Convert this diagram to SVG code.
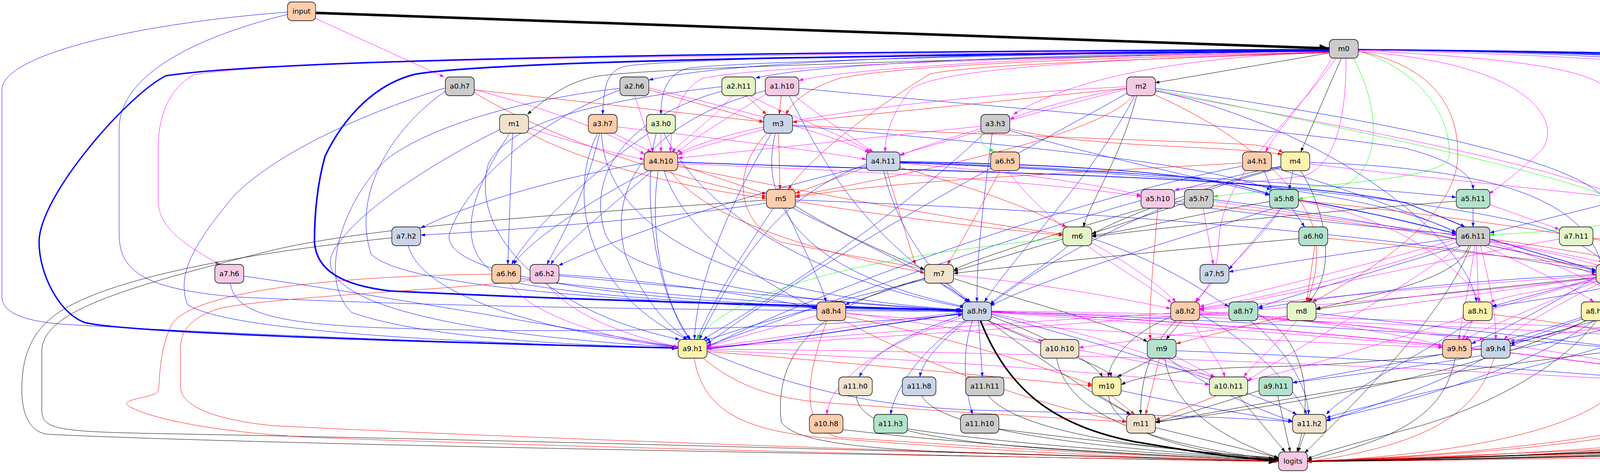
<svg xmlns="http://www.w3.org/2000/svg" width="5755" height="1211" viewBox="0 0 5755 1211">
<style>
.e{fill:none;stroke-width:1}
.b{stroke:#0000ff;marker-end:url(#mb)}
.m{stroke:#ff00ff;marker-end:url(#mm)}
.r{stroke:#ff0000;marker-end:url(#mr)}
.g{stroke:#00ff00;marker-end:url(#mg)}
.k{stroke:#000000;marker-end:url(#mk)}
.bT{stroke:#0000ff;marker-end:url(#mbT)}
.kT{stroke:#000000;marker-end:url(#mkT)}
.w2{stroke-width:1.8}
.n rect{stroke:#000;stroke-width:1.3}
.n text{font-family:"DejaVu Sans","Liberation Sans",sans-serif;font-size:18px;text-anchor:middle;fill:#000}
.P{fill:#fdcdac}.G{fill:#cccccc}.LG{fill:#e6f5c9}.PK{fill:#f4cae4}.BG{fill:#cbd5e8}.Y{fill:#fff2ae}.BE{fill:#f1e2cc}.MI{fill:#b3e2cd}
</style>
<defs>
<marker id="mb" viewBox="0 0 10 10" refX="10" refY="5" markerWidth="11" markerHeight="8" markerUnits="userSpaceOnUse" orient="auto" preserveAspectRatio="none"><path d="M0,0L10,5L0,10z" fill="#0000ff"/></marker>
<marker id="mm" viewBox="0 0 10 10" refX="10" refY="5" markerWidth="11" markerHeight="8" markerUnits="userSpaceOnUse" orient="auto" preserveAspectRatio="none"><path d="M0,0L10,5L0,10z" fill="#ff00ff"/></marker>
<marker id="mr" viewBox="0 0 10 10" refX="10" refY="5" markerWidth="11" markerHeight="8" markerUnits="userSpaceOnUse" orient="auto" preserveAspectRatio="none"><path d="M0,0L10,5L0,10z" fill="#ff0000"/></marker>
<marker id="mg" viewBox="0 0 10 10" refX="10" refY="5" markerWidth="11" markerHeight="8" markerUnits="userSpaceOnUse" orient="auto" preserveAspectRatio="none"><path d="M0,0L10,5L0,10z" fill="#00ff00"/></marker>
<marker id="mk" viewBox="0 0 10 10" refX="10" refY="5" markerWidth="11" markerHeight="8" markerUnits="userSpaceOnUse" orient="auto" preserveAspectRatio="none"><path d="M0,0L10,5L0,10z" fill="#000000"/></marker>
<marker id="mbT" viewBox="0 0 10 10" refX="10" refY="5" markerWidth="16" markerHeight="12" markerUnits="userSpaceOnUse" orient="auto" preserveAspectRatio="none"><path d="M0,0L10,5L0,10z" fill="#0000ff"/></marker>
<marker id="mkT" viewBox="0 0 10 10" refX="10" refY="5" markerWidth="25" markerHeight="20" markerUnits="userSpaceOnUse" orient="auto" preserveAspectRatio="none"><path d="M0,0L10,5L0,10z" fill="#000000"/></marker>
</defs>
<rect width="5755" height="1211" fill="#ffffff"/>
<g id="edges">
<path class="e kT" style="stroke-width:6.5" d="M808,33 L3403,124"/>
<path class="e m" d="M807,47 L1137,197"/>
<path class="e b" d="M736,31 C350,60 5,140 5,230 L5,760 C5,800 60,822 160,830 C700,862 1400,884 1736,891"/>
<path class="e b" d="M736,37 C480,100 305,200 305,330 L305,600 C305,700 380,740 600,760 C1200,790 2000,795 2464,797"/>
<path class="e k" d="M3406,135 L2957,212"/>
<path class="e k" d="M3403,129 C2600,150 1700,170 1530,195 C1450,210 1400,250 1350,293"/>
<path class="e k" d="M3434,149 L3330,389"/>
<path class="e m" d="M3410,149 C3350,250 3270,330 3240,389"/>
<path class="e m" d="M3446,149 C3446,300 3420,420 3340,450 C3200,470 3060,475 3007,486"/>
<path class="e m" d="M3420,149 C3300,320 3125,450 3120,620 C3118,700 3085,750 3062,773"/>
<path class="e g" d="M3465,149 C3535,280 3535,420 3450,470 C3400,495 3360,505 3324,509"/>
<path class="e g" d="M3477,130 C3640,180 3715,300 3710,400 C3705,460 3400,470 3106,503"/>
<path class="e r" d="M3477,131 C3650,165 3735,260 3732,400 C3728,560 3500,700 3360,773"/>
<path class="e m" d="M3477,129 C3900,150 4110,180 4130,250 C4150,320 4170,420 4175,485"/>
<path class="e m" d="M3403,132 C3000,150 2750,200 2594,293"/>
<path class="e m" d="M3403,130 C2800,140 2200,170 2045,206"/>
<path class="e b" d="M3403,129 C2700,140 2100,160 1934,200"/>
<path class="e b" d="M3403,128 C2600,135 1900,150 1661,205"/>
<path class="e b" d="M3403,127 C2500,135 1700,150 1600,170 C1555,180 1545,220 1543,293"/>
<path class="e b" d="M3403,128 C2600,138 1850,160 1760,175 C1705,190 1692,240 1692,293"/>
<path class="e m" d="M3403,133 C2500,150 1950,170 1800,200 C1740,230 1720,300 1716,389"/>
<path class="e m" d="M3403,134 C2900,150 2400,170 2330,230 C2285,290 2266,340 2266,389"/>
<path class="e r" d="M3403,134 C2700,150 2300,170 2150,200 C2060,230 2025,265 2012,293"/>
<path class="e r" d="M3403,135 C2800,155 2450,170 2380,190 C2200,300 2060,420 2018,485"/>
<path class="e m" d="M3477,128 C4000,140 4300,160 4350,185 C4450,250 4525,350 4540,485"/>
<path class="e m" d="M3477,132 C3900,160 4000,300 3950,380 C3900,430 3850,470 3812,496"/>
<path class="e m" d="M3403,131 C2000,138 700,150 495,192 C430,230 405,300 405,380 L405,520 C410,580 460,620 562,677"/>
<path class="e bT" style="stroke-width:3.5" d="M3403,127 C2000,132 700,150 425,194 C330,240 100,500 100,620 C100,700 150,800 215,825 C300,850 1000,875 1736,891"/>
<path class="e bT" style="stroke-width:4" d="M3403,130 C2500,140 1300,150 1063,190 C960,215 880,300 832,400 C810,480 805,560 805,620 C810,690 870,730 1000,745 C1500,770 2000,780 2464,795"/>
<path class="e b" d="M3477,126 C4600,135 5500,170 5590,192 C5660,215 5722,260 5723,300 L5720,1061"/>
<path class="e b" d="M3477,126 C4600,135 5450,170 5550,200 C5640,240 5673,280 5673,330 L5673,700 C5673,800 5560,850 5433,878"/>
<path class="e b" d="M3477,127 C4500,135 5400,170 5480,200 C5520,230 5536,280 5536,340 L5536,600 C5536,750 5300,830 5266,869"/>
<path class="e b" d="M3477,127 C4500,135 5350,170 5420,200 C5470,230 5485,280 5485,340 L5485,560 C5485,700 5250,820 5170,869"/>
<path class="e b" d="M3477,127 C4400,135 5300,170 5370,200 C5420,230 5435,280 5435,340 L5435,520 C5435,800 4700,950 4488,985"/>
<path class="e b" d="M3477,127 C4400,135 5250,170 5320,200 C5370,230 5383,280 5383,340 L5383,480 C5383,700 5100,820 5020,869"/>
<path class="e b" d="M3477,127 C4400,135 5200,170 5270,200 C5320,230 5333,280 5333,340 L5333,450 C5333,650 4900,840 4570,887"/>
<path class="e b" d="M3477,127 C4400,135 5150,165 5220,195 C5270,230 5282,280 5282,340 L5282,420 C5282,600 4700,740 4487,775"/>
<path class="e b" d="M3477,127 C4300,135 5050,160 5120,190 C5170,230 5181,280 5181,340 L5181,450 C5181,700 4500,850 4218,886"/>
<path class="e b" d="M3477,127 C4300,135 4950,160 5040,190 C5100,230 5129,280 5129,340 L5129,420 C5129,600 4400,760 4134,790"/>
<path class="e b" d="M3477,127 C4300,135 4900,160 4960,190 C5010,230 5027,280 5027,340 L5027,400 C5027,550 4400,650 4172,690"/>
<path class="e b" d="M3477,127 C4300,135 4800,160 4840,190 C4870,230 4876,280 4876,340 L4876,450 C4876,650 4000,830 3866,886"/>
<path class="e b" d="M3477,127 C4200,135 4700,160 4740,190 C4770,230 4776,280 4776,340 L4776,500 C4776,800 3600,1000 3395,1070"/>
<path class="e b" d="M3477,127 C4200,135 4650,160 4690,190 C4715,230 4723,280 4723,340 L4723,450 C4723,650 4000,760 3820,785"/>
<path class="e b" d="M3477,127 C4200,135 4550,160 4590,190 C4615,230 4624,280 4624,340 L4624,500 C4624,850 3500,950 3309,980"/>
<path class="e b" d="M3477,127 C4000,135 4300,150 4330,180 C4345,210 4346,250 4346,300 L4346,420 C4346,600 3900,820 3767,880"/>
<path class="e r" d="M1214,230 L1955,312"/>
<path class="e r" d="M1212,236 C1400,350 1700,450 1962,503"/>
<path class="e m" d="M1214,229 C1400,280 1550,330 1650,395"/>
<path class="e b" d="M1140,225 C900,300 700,400 600,500 C500,620 450,700 480,780 C600,860 1400,885 1736,890"/>
<path class="e b" d="M1142,232 C1000,330 900,500 950,650 C1050,760 2000,790 2464,798"/>
<path class="e m" d="M1353,327 C1450,360 1560,390 1649,408"/>
<path class="e r" d="M1350,338 C1500,420 1750,480 1962,508"/>
<path class="e b" d="M1283,330 C1100,420 900,550 850,650 C800,780 1200,860 1736,889"/>
<path class="e b" d="M1305,341 C1200,500 1150,650 1300,720 C1600,780 2200,790 2464,796"/>
<path class="e b" d="M1312,341 L1300,677"/>
<path class="e r" d="M1661,230 L1955,312"/>
<path class="e m" d="M1625,245 L1672,389"/>
<path class="e m" d="M1661,225 C1800,260 2100,330 2225,391"/>
<path class="e b" d="M1587,226 C1300,260 1100,330 1000,400 C900,480 800,700 900,800 C1100,870 1500,885 1736,890"/>
<path class="e b" d="M1588,230 C1400,300 1200,450 1150,600 C1130,720 1700,785 2464,795"/>
<path class="e r" d="M1910,245 L1962,293"/>
<path class="e m" d="M1875,245 C1830,300 1760,350 1720,389"/>
<path class="e m" d="M1920,245 C2000,290 2150,340 2228,389"/>
<path class="e b" d="M1848,222 C1500,260 1300,320 1250,420 C1200,600 1400,800 1740,869"/>
<path class="e b" d="M1850,233 C1600,300 1500,450 1550,600 C1600,720 2100,780 2464,794"/>
<path class="e r" d="M2000,245 L1995,293"/>
<path class="e m" d="M1962,240 C1850,310 1780,350 1732,392"/>
<path class="e m" d="M2035,245 C2100,300 2180,350 2235,389"/>
<path class="e b" d="M1960,232 C1700,300 1550,450 1600,650 C1650,780 1720,840 1760,869"/>
<path class="e b" d="M2020,245 C2100,400 2200,600 2480,773"/>
<path class="e b" d="M2045,226 C2600,280 3300,330 3600,380 C3750,420 3770,460 3771,485"/>
<path class="e m" d="M2884,226 C2750,250 2650,280 2585,305"/>
<path class="e r" d="M2884,226 L2029,313"/>
<path class="e r" d="M2900,245 C2820,350 2300,450 2036,502"/>
<path class="e k" d="M2910,245 C2870,400 2800,500 2773,581"/>
<path class="e m" d="M2884,222 C2500,240 1900,300 1736,395"/>
<path class="e m" d="M2886,228 C2600,300 2400,360 2304,398"/>
<path class="e b" d="M2888,237 C2600,400 2200,600 1810,880"/>
<path class="e b" d="M2905,245 C2800,450 2600,650 2520,773"/>
<path class="e m" d="M2958,233 C3300,300 3900,400 4136,500"/>
<path class="e g" d="M2958,229 C3400,320 4150,470 4200,550 C4150,580 3950,595 3814,601"/>
<path class="e b" d="M2958,226 C3500,300 4000,400 4100,500 C4140,560 4132,640 4129,677"/>
<path class="e b" d="M2958,232 C3400,330 3750,600 3780,773"/>
<path class="e r" d="M2950,240 C3200,350 3360,500 3370,620 C3375,700 3355,740 3348,773"/>
<path class="e m" d="M1570,341 L1668,389"/>
<path class="e m" d="M1580,325 C1800,350 2050,380 2218,408"/>
<path class="e b" d="M1530,341 C1450,500 1500,750 1760,869"/>
<path class="e b" d="M1540,341 C1550,600 1900,760 2464,793"/>
<path class="e b" d="M1535,341 C1500,500 1430,620 1400,677"/>
<path class="e m" d="M1692,341 L1692,389"/>
<path class="e b" d="M1680,341 C1640,500 1680,750 1765,869"/>
<path class="e b" d="M1700,341 C1800,550 2100,720 2468,787"/>
<path class="e b" d="M1668,336 C1500,450 1350,600 1310,677"/>
<path class="e m" d="M1955,332 C1850,360 1780,380 1736,396"/>
<path class="e r" d="M1993,341 L1997,485"/>
<path class="e b" d="M1975,341 C1850,550 1780,750 1778,869"/>
<path class="e b" d="M1985,341 C1940,520 2050,700 2470,785"/>
<path class="e r" d="M1963,341 C1860,450 1900,580 2000,620 C2200,660 2330,680 2367,690"/>
<path class="e r" d="M2029,320 C2600,350 3000,360 3200,370 C3250,375 3275,385 3285,390"/>
<path class="e b" d="M2029,322 C2600,370 3100,420 3254,486"/>
<path class="e m" d="M2511,323 L1736,405"/>
<path class="e m" d="M2515,334 L2304,396"/>
<path class="e g" d="M2515,336 C2500,370 2530,380 2545,389"/>
<path class="e b" d="M2585,334 C2800,400 3100,460 3250,500"/>
<path class="e r" d="M2585,330 C2800,380 3100,370 3282,395"/>
<path class="e b" d="M2520,341 C2300,550 2000,750 1800,869"/>
<path class="e b" d="M2540,341 C2520,500 2500,650 2501,773"/>
<path class="e r" d="M1736,421 L1962,497"/>
<path class="e r" d="M1736,426 C2100,500 2500,570 2721,600"/>
<path class="e r" d="M1716,437 C1800,560 2100,650 2367,698"/>
<path class="e b" d="M1649,418 C1450,450 1200,520 1077,584"/>
<path class="e b" d="M1660,437 C1500,520 1350,620 1315,677"/>
<path class="e b" d="M1670,437 C1550,540 1440,630 1410,677"/>
<path class="e b" d="M1685,437 C1660,600 1700,780 1768,869"/>
<path class="e b w2" d="M1735,415 C2400,440 3300,450 3600,520 C3700,560 3740,575 3750,581"/>
<path class="e b" d="M1700,437 C1750,600 1950,720 2091,792"/>
<path class="e m" d="M1735,419 C2300,440 2700,470 2921,503"/>
<path class="e r" d="M2225,425 L2036,495"/>
<path class="e r" d="M2300,428 C2500,480 2650,540 2730,581"/>
<path class="e r" d="M2270,437 L2343,677"/>
<path class="e m" d="M2304,418 C2600,440 2800,470 2921,500"/>
<path class="e b w2" d="M2304,414 C2700,420 3100,440 3250,498"/>
<path class="e b" d="M2304,416 C2900,430 3500,480 3728,595"/>
<path class="e b" d="M2218,420 C2000,500 1900,650 1790,869"/>
<path class="e b" d="M2262,437 C2300,600 2400,720 2480,773"/>
<path class="e b" d="M2218,425 C1900,500 1600,600 1430,680"/>
<path class="e b" d="M2304,417 C3000,440 3800,520 4000,600 C4070,640 4100,660 4110,677"/>
<path class="e b" d="M2304,415 C2900,440 3500,480 3728,505"/>
<path class="e m" d="M2580,437 C2700,600 2900,700 2999,775"/>
<path class="e r" d="M2560,437 C2500,550 2450,640 2425,677"/>
<path class="e b" d="M3236,437 L3255,485"/>
<path class="e r" d="M3181,417 C2800,440 2300,460 2036,505"/>
<path class="e b" d="M3256,428 C3500,500 3650,560 3728,595"/>
<path class="e b" d="M3181,425 C2800,500 2200,700 1810,889"/>
<path class="e b" d="M3310,437 L3300,485"/>
<path class="e k" d="M3285,425 C3150,460 2900,540 2795,600"/>
<path class="e k" d="M3330,437 C3400,550 3420,700 3350,773"/>
<path class="e m" d="M3353,420 C3700,460 4000,490 4136,505"/>
<path class="e b" d="M3282,425 C2800,520 2200,750 1810,885"/>
<path class="e b" d="M3285,428 C3000,500 2700,650 2535,780"/>
<path class="e b" d="M3353,416 C3800,430 4050,500 4100,677"/>
<path class="e r" d="M2036,515 C2300,560 2600,590 2721,603"/>
<path class="e k" d="M2036,527 C2150,600 2300,660 2367,690"/>
<path class="e k" d="M1962,512 C1600,540 1000,570 700,640 C300,740 107,800 107,900 L107,1050 C107,1100 150,1105 400,1110 C1500,1130 2800,1170 3273,1180"/>
<path class="e b" d="M1980,533 C1900,650 1820,780 1785,869"/>
<path class="e b" d="M2030,533 C2200,620 2420,720 2480,773"/>
<path class="e b" d="M2010,533 C2060,640 2100,720 2115,773"/>
<path class="e b" d="M2036,512 C2800,540 3600,600 4086,698"/>
<path class="e b" d="M1962,520 C1700,560 1300,590 1077,602"/>
<path class="e k" d="M2930,533 C2700,600 2500,660 2441,692"/>
<path class="e r" d="M2964,533 C2950,700 2940,800 2945,869"/>
<path class="e b" d="M3007,521 C3300,560 3600,590 3728,600"/>
<path class="e r" d="M3007,515 C3400,560 3900,620 4086,705"/>
<path class="e k" d="M3032,520 L2795,598"/>
<path class="e m" d="M3106,515 C3400,560 3650,590 3728,603"/>
<path class="e m" d="M3080,533 L3106,677"/>
<path class="e b" d="M3106,511 C3500,560 3900,640 4086,695"/>
<path class="e b" d="M3307,533 L3340,581"/>
<path class="e k" d="M3250,516 C3050,550 2900,590 2795,603"/>
<path class="e b w2" d="M3324,512 C3500,540 3650,580 3728,598"/>
<path class="e m" d="M3324,515 C3600,560 3750,700 3790,773"/>
<path class="e r" d="M3324,513 C3800,560 4300,640 4500,700 C4700,760 4800,800 4900,850 C5000,920 4950,1100 4700,1140 C4200,1170 3700,1178 3347,1181"/>
<path class="e b" d="M3260,533 C3000,620 2700,700 2535,783"/>
<path class="e b" d="M3280,533 L3146,690"/>
<path class="e m" d="M3280,533 C3200,650 3100,720 3060,773"/>
<path class="e b" d="M3771,533 L3771,581"/>
<path class="e m" d="M3814,524 L3992,587"/>
<path class="e k" d="M3728,515 C3300,550 3000,580 2795,606"/>
<path class="e b" d="M4136,516 C4000,550 3880,580 3814,596"/>
<path class="e b" d="M4170,533 L4140,677"/>
<path class="e r" d="M4210,515 C4500,600 5300,700 5350,900 C5380,1050 5300,1120 5200,1130 C4500,1150 3700,1170 3347,1180"/>
<path class="e b" d="M4512,515 C4350,560 4200,640 4172,690"/>
<path class="e r" d="M4555,533 C4560,700 4560,900 4500,1000 C4300,1120 3700,1170 3347,1180"/>
<path class="e k" d="M1003,609 C700,640 300,700 150,800 C60,860 56,950 56,1000 C56,1080 90,1110 125,1112 C700,1140 2500,1168 3273,1181"/>
<path class="e b" d="M1045,629 C1080,760 1400,850 1736,888"/>
<path class="e k" d="M2721,612 L2441,695"/>
<path class="e g" d="M2721,609 C2300,650 1900,720 1783,869"/>
<path class="e b" d="M2735,629 C2650,700 2560,750 2535,780"/>
<path class="e m" d="M2795,622 C2900,680 2980,740 3010,773"/>
<path class="e b" d="M2795,610 C3000,680 3100,760 3146,785"/>
<path class="e k" d="M3325,611 C3000,640 2700,670 2441,700"/>
<path class="e r" d="M3366,629 L3345,773"/>
<path class="e r" d="M3399,610 C3800,650 4300,700 4600,760 C4900,830 5100,950 5000,1080 C4900,1140 3800,1170 3347,1180"/>
<path class="e b w2" d="M3814,612 L4086,692"/>
<path class="e b" d="M3728,610 C3500,640 3300,670 3146,696"/>
<path class="e m" d="M3728,612 C3500,680 3200,750 3071,785"/>
<path class="e m" d="M3730,620 C3500,700 3250,760 3071,790"/>
<path class="e b" d="M3740,629 C3500,700 3300,760 3221,787"/>
<path class="e k" d="M3760,629 C3740,700 3600,740 3369,790"/>
<path class="e k" d="M3765,629 C3700,800 3500,1000 3340,1160"/>
<path class="e m" d="M3775,629 C3760,750 3740,820 3735,869"/>
<path class="e m" d="M3790,629 C3820,750 3830,820 3829,869"/>
<path class="e m" d="M3780,629 L3785,773"/>
<path class="e m" d="M3740,629 C3500,800 3300,900 3194,975"/>
<path class="e m" d="M3800,629 C3950,700 4050,750 4080,773"/>
<path class="e m" d="M3814,620 C4100,700 4400,900 4420,965"/>
<path class="e r" d="M3814,612 C4500,700 5000,900 5000,1050 C4900,1130 3800,1165 3347,1180"/>
<path class="e m" d="M3814,616 C4200,680 4450,760 4470,773"/>
<path class="e m" d="M3814,618 C4300,700 4500,850 4520,869"/>
<path class="e r" d="M4078,610 C4600,650 5400,700 5430,900 C5440,1080 5300,1125 5200,1130 C4500,1150 3700,1172 3347,1181"/>
<path class="e m" d="M3992,612 C3600,680 3300,760 3071,792"/>
<path class="e b" d="M624,707 C1000,760 1500,850 1736,888"/>
<path class="e b" d="M590,725 C600,800 700,830 1000,840 C1600,860 2200,830 2464,805"/>
<path class="e r" d="M1259,702 C900,705 500,740 440,830 C405,900 410,980 405,1000 C400,1020 300,1020 330,1040 C400,1080 600,1110 800,1120 C1600,1150 2800,1175 3273,1182"/>
<path class="e m" d="M1305,725 C1350,800 1550,870 1736,890"/>
<path class="e b" d="M1333,713 C1700,760 2100,785 2464,796"/>
<path class="e r" d="M1357,718 C1100,745 700,760 560,790 C470,820 462,860 462,900 L462,990 C462,1040 550,1075 700,1090 C1500,1130 2800,1170 3273,1180"/>
<path class="e m" d="M1400,725 C1450,800 1600,860 1736,888"/>
<path class="e b" d="M1431,703 C1700,720 1950,760 2091,790"/>
<path class="e b" d="M1431,706 C1800,740 2200,780 2464,794"/>
<path class="e b" d="M2424,725 L2485,773"/>
<path class="e b" d="M2367,712 L2163,780"/>
<path class="e b" d="M2367,716 C2100,780 1900,840 1806,872"/>
<path class="e k" d="M2441,713 C2650,780 2850,830 2938,875"/>
<path class="e m" d="M2441,704 C2700,730 2900,770 2997,790"/>
<path class="e k" d="M2367,713 C2100,780 1980,900 2000,1080 C2030,1130 2200,1150 2500,1160 C2900,1172 3150,1178 3273,1181"/>
<path class="e m" d="M3100,725 L3060,773"/>
<path class="e m" d="M4125,725 L4100,773"/>
<path class="e m" d="M4140,725 L4115,773"/>
<path class="e b" d="M4086,712 L3820,784"/>
<path class="e m" d="M4090,720 C3950,740 3850,760 3815,773"/>
<path class="e k" d="M4086,710 C3800,740 3500,770 3369,792"/>
<path class="e m" d="M4086,706 C3700,730 3300,770 3071,794"/>
<path class="e b" d="M4086,703 C3700,720 3400,760 3221,790"/>
<path class="e k" d="M4130,725 C4100,900 3800,1050 3600,1100 C3450,1140 3380,1160 3347,1175"/>
<path class="e m" d="M4095,725 C3950,800 3870,850 3850,869"/>
<path class="e m" d="M4086,720 C3900,800 3780,850 3750,869"/>
<path class="e m" d="M4086,712 C3500,780 2500,850 1810,889"/>
<path class="e m" d="M4086,715 C3700,820 3400,930 3190,975"/>
<path class="e m" d="M4160,725 C4300,800 4400,900 4430,965"/>
<path class="e m" d="M4172,712 C4350,770 4480,830 4515,869"/>
<path class="e m" d="M4086,710 C3600,780 3000,860 2762,890"/>
<path class="e m" d="M4172,705 C4500,740 4900,800 5110,869"/>
<path class="e m" d="M4172,708 C4600,750 5000,810 5210,869"/>
<path class="e r" d="M4172,715 C4700,780 5200,820 5250,1000 C5240,1090 5100,1120 4900,1135 C4300,1165 3700,1178 3347,1181"/>
<path class="e m" d="M2091,808 L1810,887"/>
<path class="e r" d="M2165,810 C2500,880 2700,950 2796,985"/>
<path class="e r" d="M2117,821 C2050,1000 2060,1100 2150,1120 C2600,1150 3000,1172 3273,1180"/>
<path class="e r" d="M2160,821 C2400,950 2700,1050 2884,1080"/>
<path class="e m" d="M2165,800 C2600,860 3000,940 3110,965"/>
<path class="e m" d="M2165,803 C2800,850 3400,880 3693,890"/>
<path class="e kT" style="stroke-width:4" d="M2510,821 C2580,1000 2700,1090 2900,1130 C3100,1165 3200,1175 3273,1180"/>
<path class="e b" d="M2464,807 C2300,860 2220,920 2200,965"/>
<path class="e b" d="M2475,821 C2400,880 2360,930 2355,965"/>
<path class="e b" d="M2505,821 L2515,965"/>
<path class="e b" d="M2470,821 C2350,900 2290,1000 2280,1061"/>
<path class="e b" d="M2490,821 C2460,900 2470,1000 2490,1061"/>
<path class="e m" d="M2465,812 C2200,900 2120,1000 2117,1061"/>
<path class="e m" d="M2464,799 C2200,830 1950,870 1810,890"/>
<path class="e b w2" d="M2464,802 C2200,840 1950,880 1810,893"/>
<path class="e m" d="M2530,821 C2600,850 2650,870 2670,872"/>
<path class="e k" d="M2538,810 C2700,870 2800,930 2823,965"/>
<path class="e k" d="M2530,821 C2700,900 2840,940 2845,965"/>
<path class="e m" d="M2538,803 C2800,850 3000,930 3110,968"/>
<path class="e m" d="M2538,800 C3000,830 3500,870 3693,888"/>
<path class="e m w2" d="M2538,799 C3300,830 4200,930 4402,985"/>
<path class="e b" d="M2538,797 C3200,820 3900,870 4144,891"/>
<path class="e k" d="M2530,821 C2700,950 2850,1040 2895,1061"/>
<path class="e b" d="M2538,805 C2900,900 3200,1000 3320,1061"/>
<path class="e m" d="M2538,798 C3500,820 4300,860 4496,885"/>
<path class="e m" d="M2538,796 C3600,810 4700,860 4949,890"/>
<path class="e k" d="M3025,821 L2985,869"/>
<path class="e m" d="M3050,821 C3100,900 3130,940 3135,965"/>
<path class="e m" d="M2997,802 C2500,830 2000,870 1810,891"/>
<path class="e k" d="M3000,810 C2900,850 2840,920 2838,965"/>
<path class="e k" d="M3010,821 C2930,900 2920,1000 2920,1061"/>
<path class="e b" d="M3071,805 C3200,870 3320,1000 3345,1061"/>
<path class="e m" d="M3071,800 C3600,830 4200,930 4402,982"/>
<path class="e m" d="M3071,797 C3400,820 3600,860 3693,885"/>
<path class="e m" d="M3071,803 C3500,830 3750,860 3800,869"/>
<path class="e b" d="M3200,821 C3300,900 3350,1000 3350,1061"/>
<path class="e k" d="M3221,805 C3330,860 3370,1000 3320,1157"/>
<path class="e r" d="M3295,808 L3011,880"/>
<path class="e b" d="M3369,802 C3700,840 4000,870 4144,890"/>
<path class="e m" d="M3320,821 C3250,900 3200,940 3185,965"/>
<path class="e b" d="M3770,821 C3650,900 3450,1000 3395,1061"/>
<path class="e r" d="M3820,805 C4200,850 4400,900 4450,1000 C4400,1120 3800,1165 3347,1181"/>
<path class="e m" d="M3770,821 L3745,869"/>
<path class="e b" d="M4055,815 L3866,880"/>
<path class="e k" d="M4060,821 C3800,950 3300,1040 2958,1080"/>
<path class="e b" d="M4080,821 C3900,950 3600,1030 3395,1075"/>
<path class="e b" d="M4120,821 L4160,869"/>
<path class="e m" d="M4120,821 C4300,900 4400,950 4420,965"/>
<path class="e k" d="M4134,805 C4500,820 4900,830 5020,860 C5060,900 5040,950 5000,980 C4800,1050 4700,1110 4550,1130 C4200,1160 3700,1175 3347,1181"/>
<path class="e k" d="M4060,821 C3900,900 3500,935 3200,940 C3000,945 2900,970 2870,985"/>
<path class="e b" d="M4055,810 C3800,900 3500,940 3309,980"/>
<path class="e r" d="M4487,800 C4800,830 5230,870 5250,950 C5260,1020 5200,1100 5100,1120 C4500,1150 3700,1172 3347,1180"/>
<path class="e m" d="M4413,800 C4200,830 3900,860 3866,875"/>
<path class="e r" d="M1777,917 C1800,1050 1900,1100 2100,1120 C2600,1160 3000,1175 3273,1181"/>
<path class="e r" d="M1800,917 C1900,1000 2000,1020 2100,1030 C2500,1060 2800,1075 2884,1080"/>
<path class="e b" d="M1810,900 C2000,980 2200,1040 2500,1050 C2900,1060 3200,1070 3309,1080"/>
<path class="e r" d="M1810,900 C2200,930 2600,970 2796,988"/>
<path class="e m" d="M1810,897 C2400,920 2900,960 3096,985"/>
<path class="e m" d="M1810,894 C2800,900 3800,950 4402,985"/>
<path class="e k" d="M2705,917 C2730,1050 2900,1130 3273,1178"/>
<path class="e k" d="M2955,917 L2860,965"/>
<path class="e r" d="M2968,917 L2933,1061"/>
<path class="e k" d="M2982,917 C3000,1050 3150,1130 3273,1172"/>
<path class="e b" d="M2990,917 C3100,1000 3250,1060 3309,1078"/>
<path class="e m" d="M3005,910 L3110,965"/>
<path class="e b" d="M3011,898 C3600,920 4100,960 4402,985"/>
<path class="e k" d="M3725,917 C3700,1050 3600,1120 3347,1178"/>
<path class="e r" d="M3825,917 C3780,1060 3650,1140 3347,1182"/>
<path class="e b" d="M3800,917 C3650,1000 3450,1060 3395,1078"/>
<path class="e k" d="M4144,898 C3600,960 3200,1040 2958,1082"/>
<path class="e r" d="M4180,917 C4170,1080 3800,1160 3347,1182"/>
<path class="e r" d="M4530,917 C4520,1050 4450,1100 4300,1130 C3900,1165 3600,1175 3347,1181"/>
<path class="e k" d="M4950,910 C4750,1050 4600,1120 4400,1140 C4000,1165 3600,1176 3347,1181"/>
<path class="e m" d="M5099,900 C4800,950 4600,980 4488,988"/>
<path class="e k" d="M5136,917 C5130,1050 5100,1110 4900,1130 C4300,1160 3700,1178 3347,1182"/>
<path class="e m" d="M5200,905 C4900,960 4600,990 4488,992"/>
<path class="e k" d="M5230,917 C5210,1050 5150,1110 4950,1135 C4300,1165 3700,1178 3347,1182"/>
<path class="e k" d="M5390,917 C5390,1050 5330,1110 5150,1135 C4400,1165 3700,1178 3347,1182"/>
<path class="e k" d="M4437,1013 C4410,1100 4350,1130 4200,1145 C3900,1170 3600,1178 3347,1181"/>
<path class="e r" d="M5675,1094 C5500,1130 5000,1150 4500,1165 C4000,1175 3600,1180 3347,1182"/>
<path class="e k" d="M2192,1013 C2200,1120 2500,1150 3273,1178"/>
<path class="e k" d="M2360,1013 C2400,1100 2800,1150 3273,1175"/>
<path class="e k" d="M2530,1013 C2600,1100 2900,1150 3273,1172"/>
<path class="e k" d="M2158,1100 C2500,1140 2900,1165 3273,1178"/>
<path class="e k" d="M2323,1098 C2600,1140 3000,1165 3273,1176"/>
<path class="e k" d="M2557,1098 C2800,1130 3100,1160 3273,1174"/>
<path class="e r" d="M2845,1013 L2905,1061"/>
<path class="e k" d="M2815,1013 L2895,1061"/>
<path class="e k" d="M2838,1013 C2850,1120 3100,1165 3273,1178"/>
<path class="e b" d="M2870,1000 C3050,1040 3250,1070 3309,1080"/>
<path class="e r" d="M3115,1013 L2958,1075"/>
<path class="e k" d="M3170,1013 L3290,1157"/>
<path class="e k" d="M3223,1000 C3100,1040 3000,1070 2958,1080"/>
<path class="e k" d="M3271,1013 L3303,1157"/>
<path class="e k" d="M2958,1095 L3274,1172"/>
<path class="e k" d="M3340,1109 L3323,1157"/>
</g>
<g id="nodes">
<g id="n_input" class="n"><rect class="P" x="736" y="5" width="72" height="48" rx="11"/><text x="772" y="35">input</text></g>
<g id="n_m0" class="n"><rect class="G" x="3403" y="101" width="74" height="48" rx="11"/><text x="3440" y="131">m0</text></g>
<g id="n_a0_h7" class="n"><rect class="G" x="1140" y="197" width="74" height="48" rx="11"/><text x="1177" y="227">a0.h7</text></g>
<g id="n_a2_h6" class="n"><rect class="G" x="1587" y="197" width="74" height="48" rx="11"/><text x="1624" y="227">a2.h6</text></g>
<g id="n_a2_h11" class="n"><rect class="LG" x="1848" y="197" width="86" height="48" rx="11"/><text x="1891" y="227">a2.h11</text></g>
<g id="n_a1_h10" class="n"><rect class="PK" x="1959" y="197" width="86" height="48" rx="11"/><text x="2002" y="227">a1.h10</text></g>
<g id="n_m2" class="n"><rect class="PK" x="2884" y="197" width="74" height="48" rx="11"/><text x="2921" y="227">m2</text></g>
<g id="n_m1" class="n"><rect class="BE" x="1279" y="293" width="74" height="48" rx="11"/><text x="1316" y="323">m1</text></g>
<g id="n_a3_h7" class="n"><rect class="P" x="1506" y="293" width="74" height="48" rx="11"/><text x="1543" y="323">a3.h7</text></g>
<g id="n_a3_h0" class="n"><rect class="LG" x="1655" y="293" width="74" height="48" rx="11"/><text x="1692" y="323">a3.h0</text></g>
<g id="n_m3" class="n"><rect class="BG" x="1955" y="293" width="74" height="48" rx="11"/><text x="1992" y="323">m3</text></g>
<g id="n_a3_h3" class="n"><rect class="G" x="2511" y="293" width="74" height="48" rx="11"/><text x="2548" y="323">a3.h3</text></g>
<g id="n_a4_h10" class="n"><rect class="P" x="1649" y="389" width="86" height="48" rx="11"/><text x="1692" y="419">a4.h10</text></g>
<g id="n_a4_h11" class="n"><rect class="BG" x="2218" y="389" width="86" height="48" rx="11"/><text x="2261" y="419">a4.h11</text></g>
<g id="n_a6_h5" class="n"><rect class="P" x="2536" y="389" width="74" height="48" rx="11"/><text x="2573" y="419">a6.h5</text></g>
<g id="n_a4_h1" class="n"><rect class="P" x="3181" y="389" width="74" height="48" rx="11"/><text x="3218" y="419">a4.h1</text></g>
<g id="n_m4" class="n"><rect class="Y" x="3279" y="389" width="74" height="48" rx="11"/><text x="3316" y="419">m4</text></g>
<g id="n_m5" class="n"><rect class="P" x="1962" y="485" width="74" height="48" rx="11"/><text x="1999" y="515">m5</text></g>
<g id="n_a5_h10" class="n"><rect class="PK" x="2921" y="485" width="86" height="48" rx="11"/><text x="2964" y="515">a5.h10</text></g>
<g id="n_a5_h7" class="n"><rect class="G" x="3032" y="485" width="74" height="48" rx="11"/><text x="3069" y="515">a5.h7</text></g>
<g id="n_a5_h8" class="n"><rect class="MI" x="3250" y="485" width="74" height="48" rx="11"/><text x="3287" y="515">a5.h8</text></g>
<g id="n_a5_h11" class="n"><rect class="MI" x="3728" y="485" width="86" height="48" rx="11"/><text x="3771" y="515">a5.h11</text></g>
<g id="n_a5_h0" class="n"><rect class="BE" x="4136" y="485" width="74" height="48" rx="11"/><text x="4173" y="515">a5.h0</text></g>
<g id="n_a4_h6" class="n"><rect class="P" x="4512" y="485" width="74" height="48" rx="11"/><text x="4549" y="515">a4.h6</text></g>
<g id="n_a7_h2" class="n"><rect class="BG" x="1003" y="581" width="74" height="48" rx="11"/><text x="1040" y="611">a7.h2</text></g>
<g id="n_m6" class="n"><rect class="LG" x="2721" y="581" width="74" height="48" rx="11"/><text x="2758" y="611">m6</text></g>
<g id="n_a6_h0" class="n"><rect class="MI" x="3325" y="581" width="74" height="48" rx="11"/><text x="3362" y="611">a6.h0</text></g>
<g id="n_a6_h11" class="n"><rect class="G" x="3728" y="581" width="86" height="48" rx="11"/><text x="3771" y="611">a6.h11</text></g>
<g id="n_a7_h11" class="n"><rect class="LG" x="3992" y="581" width="86" height="48" rx="11"/><text x="4035" y="611">a7.h11</text></g>
<g id="n_a7_h6" class="n"><rect class="PK" x="550" y="677" width="74" height="48" rx="11"/><text x="587" y="707">a7.h6</text></g>
<g id="n_a6_h6" class="n"><rect class="P" x="1259" y="677" width="74" height="48" rx="11"/><text x="1296" y="707">a6.h6</text></g>
<g id="n_a6_h2" class="n"><rect class="PK" x="1357" y="677" width="74" height="48" rx="11"/><text x="1394" y="707">a6.h2</text></g>
<g id="n_m7" class="n"><rect class="BE" x="2367" y="677" width="74" height="48" rx="11"/><text x="2404" y="707">m7</text></g>
<g id="n_a7_h5" class="n"><rect class="BG" x="3072" y="677" width="74" height="48" rx="11"/><text x="3109" y="707">a7.h5</text></g>
<g id="n_a7_h10" class="n"><rect class="BE" x="4086" y="677" width="86" height="48" rx="11"/><text x="4129" y="707">a7.h10</text></g>
<g id="n_a8_h4" class="n"><rect class="P" x="2091" y="773" width="74" height="48" rx="11"/><text x="2128" y="803">a8.h4</text></g>
<g id="n_a8_h9" class="n"><rect class="BG" x="2464" y="773" width="74" height="48" rx="11"/><text x="2501" y="803">a8.h9</text></g>
<g id="n_a8_h2" class="n"><rect class="P" x="2997" y="773" width="74" height="48" rx="11"/><text x="3034" y="803">a8.h2</text></g>
<g id="n_a8_h7" class="n"><rect class="MI" x="3146" y="773" width="74" height="48" rx="11"/><text x="3183" y="803">a8.h7</text></g>
<g id="n_m8" class="n"><rect class="LG" x="3295" y="773" width="74" height="48" rx="11"/><text x="3332" y="803">m8</text></g>
<g id="n_a8_h1" class="n"><rect class="Y" x="3746" y="773" width="74" height="48" rx="11"/><text x="3783" y="803">a8.h1</text></g>
<g id="n_a8_h10" class="n"><rect class="Y" x="4048" y="773" width="86" height="48" rx="11"/><text x="4091" y="803">a8.h10</text></g>
<g id="n_a8_h8" class="n"><rect class="PK" x="4413" y="773" width="74" height="48" rx="11"/><text x="4450" y="803">a8.h8</text></g>
<g id="n_a9_h1" class="n"><rect class="Y" x="1736" y="869" width="74" height="48" rx="11"/><text x="1773" y="899">a9.h1</text></g>
<g id="n_a10_h10" class="n"><rect class="BE" x="2664" y="869" width="98" height="48" rx="11"/><text x="2713" y="899">a10.h10</text></g>
<g id="n_m9" class="n"><rect class="MI" x="2937" y="869" width="74" height="48" rx="11"/><text x="2974" y="899">m9</text></g>
<g id="n_a9_h5" class="n"><rect class="P" x="3693" y="869" width="74" height="48" rx="11"/><text x="3730" y="899">a9.h5</text></g>
<g id="n_a9_h4" class="n"><rect class="BG" x="3792" y="869" width="74" height="48" rx="11"/><text x="3829" y="899">a9.h4</text></g>
<g id="n_a9_h3" class="n"><rect class="P" x="4144" y="869" width="74" height="48" rx="11"/><text x="4181" y="899">a9.h3</text></g>
<g id="n_a9_h8" class="n"><rect class="G" x="4496" y="869" width="74" height="48" rx="11"/><text x="4533" y="899">a9.h8</text></g>
<g id="n_a9_h6" class="n"><rect class="P" x="4949" y="869" width="74" height="48" rx="11"/><text x="4986" y="899">a9.h6</text></g>
<g id="n_a9_h9" class="n"><rect class="LG" x="5099" y="869" width="74" height="48" rx="11"/><text x="5136" y="899">a9.h9</text></g>
<g id="n_a9_h7" class="n"><rect class="MI" x="5198" y="869" width="74" height="48" rx="11"/><text x="5235" y="899">a9.h7</text></g>
<g id="n_a11_h6" class="n"><rect class="BE" x="5347" y="869" width="86" height="48" rx="11"/><text x="5390" y="899">a11.h6</text></g>
<g id="n_a11_h0" class="n"><rect class="BE" x="2147" y="965" width="86" height="48" rx="11"/><text x="2190" y="995">a11.h0</text></g>
<g id="n_a11_h8" class="n"><rect class="BG" x="2310" y="965" width="86" height="48" rx="11"/><text x="2353" y="995">a11.h8</text></g>
<g id="n_a11_h11" class="n"><rect class="G" x="2472" y="965" width="98" height="48" rx="11"/><text x="2521" y="995">a11.h11</text></g>
<g id="n_m10" class="n"><rect class="Y" x="2796" y="965" width="74" height="48" rx="11"/><text x="2833" y="995">m10</text></g>
<g id="n_a10_h11" class="n"><rect class="LG" x="3096" y="965" width="98" height="48" rx="11"/><text x="3145" y="995">a10.h11</text></g>
<g id="n_a9_h11" class="n"><rect class="MI" x="3223" y="965" width="86" height="48" rx="11"/><text x="3266" y="995">a9.h11</text></g>
<g id="n_a10_h7" class="n"><rect class="MI" x="4402" y="965" width="86" height="48" rx="11"/><text x="4445" y="995">a10.h7</text></g>
<g id="n_a10_h8" class="n"><rect class="P" x="2072" y="1061" width="86" height="48" rx="11"/><text x="2115" y="1091">a10.h8</text></g>
<g id="n_a11_h3" class="n"><rect class="MI" x="2237" y="1061" width="86" height="48" rx="11"/><text x="2280" y="1091">a11.h3</text></g>
<g id="n_a11_h10" class="n"><rect class="G" x="2459" y="1061" width="98" height="48" rx="11"/><text x="2508" y="1091">a11.h10</text></g>
<g id="n_m11" class="n"><rect class="BE" x="2884" y="1061" width="74" height="48" rx="11"/><text x="2921" y="1091">m11</text></g>
<g id="n_a11_h2" class="n"><rect class="BE" x="3309" y="1061" width="86" height="48" rx="11"/><text x="3352" y="1091">a11.h2</text></g>
<g id="n_a7_h9" class="n"><rect class="PK" x="5675" y="1061" width="74" height="48" rx="11"/><text x="5712" y="1091">a7.h9</text></g>
<g id="n_logits" class="n"><rect class="PK" x="3273" y="1157" width="74" height="48" rx="11"/><text x="3310" y="1187">logits</text></g>
</g>
</svg>
